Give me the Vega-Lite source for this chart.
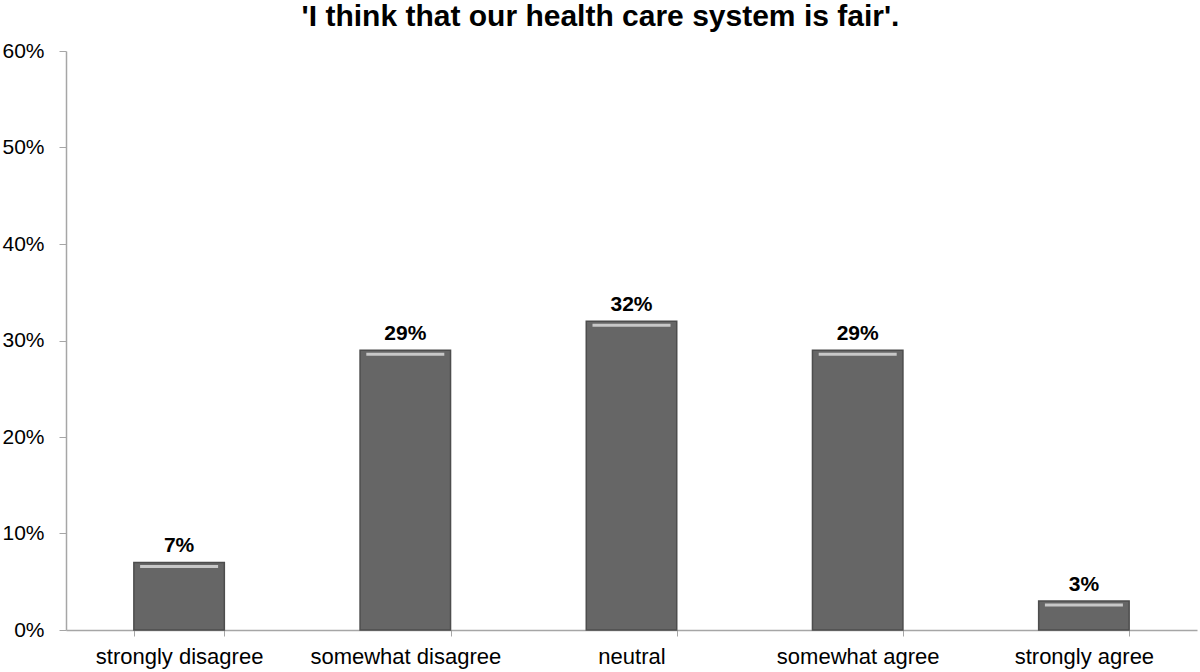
{
  "$schema": "https://vega.github.io/schema/vega-lite/v6.json",
  "width": 1131,
  "height": 579,
  "autosize": {"type": "none"},
  "padding": {"left": 66, "top": 51, "right": 3, "bottom": 42},
  "background": "white",
  "config": {"view": {"stroke": null}, "font": "Liberation Sans"},
  "title": {
    "text": "'I think that our health care system is fair'.",
    "font": "Liberation Sans",
    "fontSize": 30,
    "fontWeight": "bold",
    "color": "#000000",
    "anchor": "middle",
    "dx": -31,
    "offset": 8
  },
  "data": {
    "values": [
      {"response": "strongly disagree", "share": 0.07},
      {"response": "somewhat disagree", "share": 0.29},
      {"response": "neutral", "share": 0.32},
      {"response": "somewhat agree", "share": 0.29},
      {"response": "strongly agree", "share": 0.03}
    ]
  },
  "encoding": {
    "x": {
      "field": "response",
      "type": "nominal",
      "sort": null,
      "scale": {"paddingInner": 0.6, "paddingOuter": 0.3},
      "axis": {
        "title": null,
        "labelAngle": 0,
        "labelFontSize": 22,
        "labelLimit": 0,
        "labelColor": "#000000",
        "labelPadding": 10,
        "tickBand": "extent",
        "tickSize": 6,
        "tickColor": "#a6a6a6",
        "domainColor": "#a6a6a6",
        "domainWidth": 1.5,
        "grid": false
      }
    },
    "y": {
      "field": "share",
      "type": "quantitative",
      "scale": {"domain": [0, 0.6], "nice": false},
      "axis": {
        "title": null,
        "format": ".0%",
        "values": [0, 0.1, 0.2, 0.3, 0.4, 0.5, 0.6],
        "labelFontSize": 21,
        "labelColor": "#000000",
        "labelPadding": 15,
        "tickSize": 7,
        "tickColor": "#a6a6a6",
        "domainColor": "#a6a6a6",
        "domainWidth": 1.5,
        "grid": false
      }
    }
  },
  "layer": [
    {
      "mark": {"type": "bar", "color": "#666666", "stroke": "#4d4d4d", "strokeWidth": 1.5}
    },
    {
      "mark": {"type": "tick", "color": "#f2f2f2", "thickness": 3, "size": 78, "yOffset": 4, "orient": "horizontal"}
    },
    {
      "mark": {"type": "text", "baseline": "bottom", "dy": -6, "fontSize": 21, "fontWeight": "bold", "color": "#000000"},
      "encoding": {"text": {"field": "share", "type": "quantitative", "format": ".0%"}}
    }
  ]
}
